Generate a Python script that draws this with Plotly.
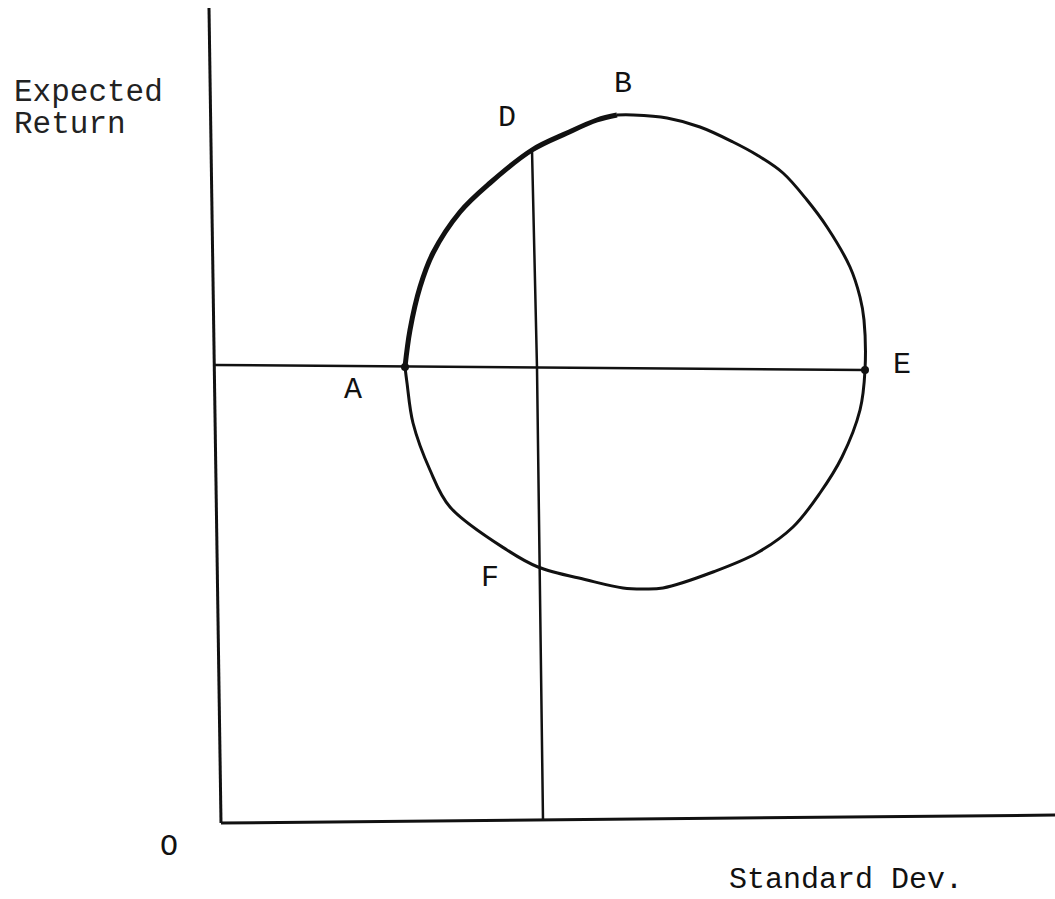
import plotly.graph_objects as go

# Data units: x = standard deviation, y = expected return (origin at O)
# Efficient frontier A -> D -> B (thick part)
frontier_sd = [1.83, 1.88, 1.98, 2.11, 2.38, 2.68, 3.10, 3.45, 3.75, 3.95]
frontier_ret = [4.56, 4.93, 5.36, 5.70, 6.11, 6.40, 6.73, 6.90, 7.03, 7.08]

# Remaining boundary B -> E -> bottom -> F -> A
rest_sd = [3.95, 4.11, 4.45, 4.78, 5.11, 5.35, 5.61, 5.85, 6.05, 6.28, 6.38, 6.42, 6.43,
           6.38, 6.20, 5.98, 5.71, 5.35, 4.91, 4.41, 4.21, 4.01, 3.65, 3.16, 2.85, 2.28,
           2.08, 1.91, 1.85, 1.83]
rest_ret = [7.08, 7.08, 7.05, 6.96, 6.81, 6.68, 6.50, 6.23, 5.96, 5.56, 5.26, 5.03, 4.53,
            4.13, 3.66, 3.30, 2.96, 2.70, 2.51, 2.35, 2.34, 2.35, 2.43, 2.56, 2.73, 3.16,
            3.53, 4.00, 4.40, 4.56]

# Hand-drawn axes and guide lines
yaxis_line_sd = [-0.13, -0.08, -0.01]
yaxis_line_ret = [8.15, 4.58, 0.00]
xaxis_line_sd = [-0.01, 3.21, 8.40]
xaxis_line_ret = [0.00, 0.03, 0.08]
hline_sd = [-0.07, 6.43]
hline_ret = [4.58, 4.53]
vline_sd = [3.10, 3.15, 3.21]
vline_ret = [6.73, 4.55, 0.03]

# Points marked with dots (A, E)
dot_sd = [1.83, 6.43]
dot_ret = [4.56, 4.53]

# Labels
label_text = ["B", "D", "A", "E", "F", "O", "Standard Dev."]
label_sd = [4.01, 2.85, 1.31, 6.80, 2.68, -0.53, 6.24]
label_ret = [7.39, 7.05, 4.33, 4.58, 2.45, -0.24, -0.57]
ylabel_lines = ["Expected", "Return"]
ylabel_sd = -2.10
ylabel_ret = [7.31, 6.99]

INK = "#111111"
FONT = "Liberation Mono, Courier New, monospace"

fig = go.Figure()

def line(xs, ys, w):
    fig.add_trace(go.Scatter(x=xs, y=ys, mode="lines",
                             line=dict(color=INK, width=w), hoverinfo="skip"))

line(yaxis_line_sd, yaxis_line_ret, 3)
line(xaxis_line_sd, xaxis_line_ret, 3)
line(hline_sd, hline_ret, 2.5)
line(vline_sd, vline_ret, 2.5)

fig.add_trace(go.Scatter(x=rest_sd, y=rest_ret, mode="lines",
                         line=dict(color=INK, width=3, shape="spline", smoothing=1.0),
                         hoverinfo="skip"))
fig.add_trace(go.Scatter(x=frontier_sd, y=frontier_ret, mode="lines",
                         line=dict(color=INK, width=5, shape="spline", smoothing=1.0),
                         hoverinfo="skip"))
fig.add_trace(go.Scatter(x=dot_sd, y=dot_ret, mode="markers",
                         marker=dict(color=INK, size=8), hoverinfo="skip"))

for t, xv, yv in zip(label_text, label_sd, label_ret):
    fig.add_annotation(x=xv, y=yv, text=t, showarrow=False,
                       xanchor="center", yanchor="middle",
                       font=dict(family=FONT, size=30, color=INK))
for t, yv in zip(ylabel_lines, ylabel_ret):
    fig.add_annotation(x=ylabel_sd, y=yv, text=t, showarrow=False,
                       xanchor="left", yanchor="middle",
                       font=dict(family=FONT, size=31, color="#222222"))

fig.update_layout(
    width=1055, height=899,
    margin=dict(l=0, r=0, t=0, b=0),
    paper_bgcolor="white", plot_bgcolor="white",
    showlegend=False,
    hovermode=False,
    xaxis=dict(range=[-2.22, 8.33], visible=False, fixedrange=True),
    yaxis=dict(range=[-0.76, 8.23], visible=False, fixedrange=True),
)

fig.write_html("out.html",
               config={"displayModeBar": False, "staticPlot": True},
               post_script="document.body.style.margin='0';document.body.style.overflow='hidden';")
